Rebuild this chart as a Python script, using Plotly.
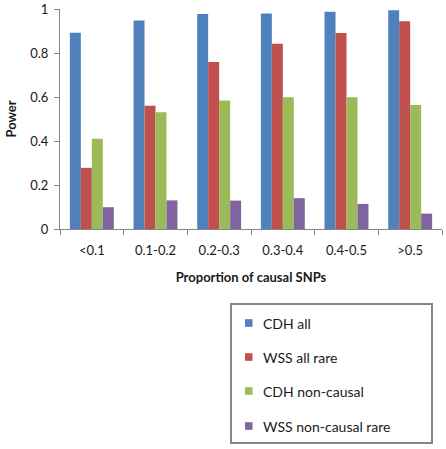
import plotly.graph_objects as go

categories = ["<0.1", "0.1-0.2", "0.2-0.3", "0.3-0.4", "0.4-0.5", ">0.5"]
cdh_all = [0.892, 0.948, 0.977, 0.980, 0.988, 0.994]
wss_all_rare = [0.278, 0.560, 0.759, 0.842, 0.891, 0.944]
cdh_non_causal = [0.410, 0.531, 0.584, 0.599, 0.599, 0.564]
wss_non_causal_rare = [0.099, 0.130, 0.129, 0.140, 0.114, 0.070]
y_ticks = [0, 0.2, 0.4, 0.6, 0.8, 1]
y_tick_labels = ["0", "0.2", "0.4", "0.6", "0.8", "1"]

series = [
    ("CDH all", cdh_all, "#4F81BD"),
    ("WSS all rare", wss_all_rare, "#C0504D"),
    ("CDH non-causal", cdh_non_causal, "#9BBB59"),
    ("WSS non-causal rare", wss_non_causal_rare, "#8064A2"),
]

FONT = "Lato"
TXT = "#1a1a1a"
AX = "#868686"

fig = go.Figure()
for name, vals, color in series:
    fig.add_trace(go.Bar(
        x=categories, y=vals, name=name,
        marker=dict(color=color, line=dict(width=0)),
    ))

# plot area in pixels: x 60..442, y 9..229
L, R, T, B = 60, 442, 9, 229
W, H = R - L, B - T

def px(x):
    return (x - L) / W

def py(y):
    return (B - y) / H

shapes = [dict(
    type="rect", xref="paper", yref="paper",
    x0=px(231), x1=px(432), y0=py(443), y1=py(304),
    line=dict(color=AX, width=2), fillcolor="rgba(0,0,0,0)",
)]
annotations = []
legend_y = [323, 357, 391, 426]
for (name, vals, color), yy in zip(series, legend_y):
    shapes.append(dict(
        type="rect", xref="paper", yref="paper",
        x0=px(245), x1=px(252.5), y0=py(yy + 3.8), y1=py(yy - 3.8),
        line=dict(width=0), fillcolor=color,
    ))
    annotations.append(dict(
        xref="paper", yref="paper", x=px(261), y=py(yy),
        xanchor="left", yanchor="middle", showarrow=False,
        text=name, font=dict(family=FONT, size=14, color=TXT),
    ))

fig.update_layout(
    width=446, height=449,
    margin=dict(l=L, r=446 - R, t=T, b=449 - B, autoexpand=False),
    paper_bgcolor="white", plot_bgcolor="white",
    barmode="group", bargap=0.31, bargroupgap=0,
    font=dict(family=FONT, size=13, color=TXT),
    showlegend=False,
    xaxis=dict(
        showline=True, linecolor=AX, linewidth=1,
        ticks="outside", ticklen=5, tickcolor=AX, tickson="boundaries",
        tickfont=dict(size=13), ticklabelstandoff=9,
        title=dict(text="<b>Proportion of causal SNPs</b>", standoff=16,
                   font=dict(size=13)),
        showgrid=False,
    ),
    yaxis=dict(
        range=[0, 1], tickvals=y_ticks, ticktext=y_tick_labels,
        showline=True, linecolor=AX, linewidth=1,
        ticks="outside", ticklen=5, tickcolor=AX,
        tickfont=dict(size=13), ticklabelstandoff=3,
        title=dict(text="<b>Power</b>", standoff=10, font=dict(size=13)),
        showgrid=False, zeroline=False,
    ),
    shapes=shapes,
    annotations=annotations,
)

fig.write_html("out.html", config={"displayModeBar": False},
               post_script="document.body.style.margin='0';")
